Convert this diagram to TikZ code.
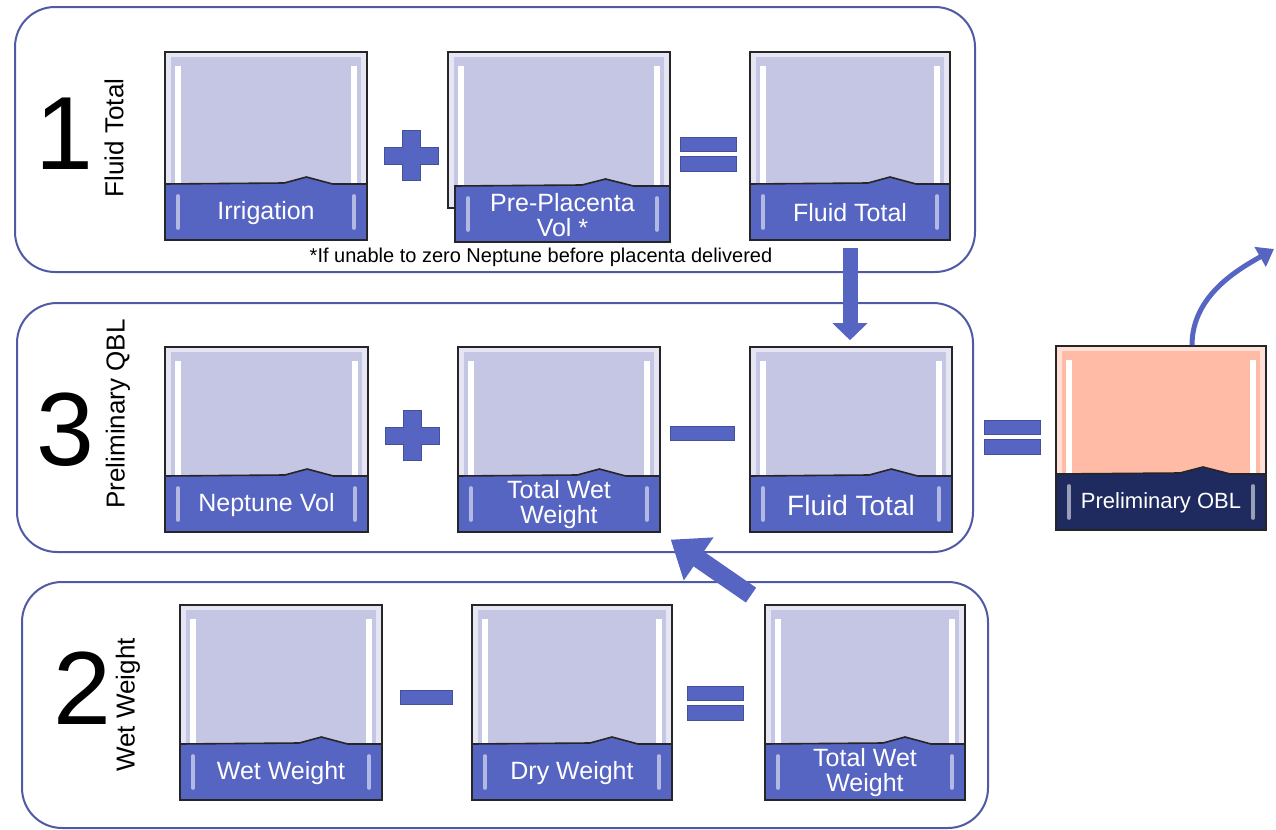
\documentclass[tikz,border=0pt]{standalone}
\usepackage{fontspec}
\setmainfont{Liberation Sans}
\usetikzlibrary{arrows.meta}

\definecolor{boxfill}{HTML}{C5C6E4}
\definecolor{barblue}{HTML}{5664C2}
\definecolor{framecol}{HTML}{5059A3}
\definecolor{salmon}{HTML}{FFBBA5}
\definecolor{navy}{HTML}{1F2B5F}

% box: name, x1, y1, x2, y2, fill
\newcommand{\qbox}[6]{%
  \fill[#6!45!white] (#2,#3) rectangle (#4,#5);
  \fill[#6] (#2+6,#3+5) rectangle (#4-6,#5-4);
  \fill[white] (#2+10,#3+14) rectangle (#2+16,#5-4);
  \fill[white] (#4-16,#3+14) rectangle (#4-10,#5-4);
  \node[boxframe, minimum width={(#4-#2)*0.5pt}, minimum height={(#5-#3)*0.5pt}]
    (#1) at ({(#2+#4)/2},{(#3+#5)/2}) {};}
% label bar: name, x1, x2, bottom, fill, text
\newcommand{\qbar}[6]{%
  \filldraw[fill=#5, draw=black!85, line width=.8pt] (#2,#4) -- (#2,#4-56)
    -- ({#2+0.59*(#3-#2)},#4-57) -- ({#2+0.7*(#3-#2)},#4-63)
    -- ({#2+0.83*(#3-#2)},#4-56) -- (#3,#4-56) -- (#3,#4) -- cycle;
  \draw[barmark] (#2+13,#4-44) -- (#2+13,#4-12);
  \draw[barmark] (#3-13,#4-44) -- (#3-13,#4-12);
  \node[bartext] (#1) at ({(#2+#3)/2},#4-27) {#6};}
\newcommand{\qplus}[2]{\filldraw[symbol] (#1-27,#2-8) -- (#1-9,#2-8) -- (#1-9,#2-25)
  -- (#1+9,#2-25) -- (#1+9,#2-8) -- (#1+27,#2-8) -- (#1+27,#2+9) -- (#1+9,#2+9)
  -- (#1+9,#2+25) -- (#1-9,#2+25) -- (#1-9,#2+9) -- (#1-27,#2+9) -- cycle;}
\newcommand{\qminus}[3]{\filldraw[symbol] (#1-#3,#2-7) rectangle (#1+#3,#2+7);}
\newcommand{\qequals}[2]{\filldraw[symbol] (#1-28,#2-17) rectangle (#1+28,#2-3);
  \filldraw[symbol] (#1-28,#2+2) rectangle (#1+28,#2+17);}

\begin{document}
\begin{tikzpicture}[x=0.5pt, y=-0.5pt,
    panel/.style = {draw=framecol, line width=1pt, rounded corners=20pt},
    boxframe/.style = {draw=black!85, line width=.8pt, inner sep=0pt},
    barmark/.style = {draw=white, opacity=.55, line width=1.8pt, line cap=round},
    bartext/.style = {text=white, align=center, font=\fontsize{12.5}{12.5}\selectfont},
    symbol/.style = {fill=barblue, draw=barblue!80!black, line width=.4pt},
    bignum/.style = {font=\fontsize{52}{52}\selectfont},
    steplabel/.style = {rotate=90, font=\fontsize{13}{13}\selectfont},
    blockarrow/.style = {draw=barblue, line width=7.5pt,
      -{Triangle[width=17pt,length=8.5pt]}}]
  \useasboundingbox (0,0) rectangle (1276,830);

  \draw[panel] (15,7) rectangle (975,272);
  \draw[panel] (17,303) rectangle (973,552);
  \draw[panel] (22,582) rectangle (988,828);

  \node[bignum] (n1) at (64,134) {1};
  \node[steplabel] (l1) at (114,138) {Fluid Total};
  \node[bignum] (n3) at (65,430) {3};
  \node[steplabel] (l3) at (118,414) {Preliminary QBL};
  \node[bignum] (n2) at (82,688) {2};
  \node[steplabel] (l2) at (128,705) {Wet Weight};

  % step 1
  \qbox{irr}{165}{52}{367}{240}{boxfill}
  \qbar{irrl}{165}{367}{240}{barblue}{Irrigation}
  \qplus{411}{155}
  \qbox{ppv}{448}{52}{670}{208}{boxfill}
  \qbar{ppvl}{455}{670}{242}{barblue}{Pre-Placenta\\Vol *}
  \qequals{708}{154}
  \qbox{ft1}{750}{52}{950}{240}{boxfill}
  \qbar{ft1l}{750}{950}{240}{barblue}{Fluid Total}
  \node[font=\fontsize{10}{10}\selectfont] (fn) at (541,257)
    {*If unable to zero Neptune before placenta delivered};

  % step 3
  \qbox{nep}{165}{347}{368}{532}{boxfill}
  \qbar{nepl}{165}{368}{532}{barblue}{Neptune Vol}
  \qplus{412}{435}
  \qbox{tww3}{458}{347}{660}{532}{boxfill}
  \qbar{tww3l}{458}{660}{532}{barblue}{Total Wet\\Weight}
  \qminus{702}{433}{32}
  \qbox{ft3}{750}{347}{952}{532}{boxfill}
  \qbar{ft3l}{750}{952}{532}{barblue}{\fontsize{14}{14}\selectfont Fluid Total}
  \qequals{1012}{437}
  \qbox{obl}{1056}{346}{1266}{530}{salmon}
  \qbar{obll}{1056}{1266}{530}{navy}{\fontsize{11}{11}\selectfont Preliminary OBL}

  % step 2
  \qbox{ww}{180}{605}{382}{800}{boxfill}
  \qbar{wwl}{180}{382}{800}{barblue}{Wet Weight}
  \qminus{426}{697}{26}
  \qbox{dw}{472}{605}{672}{800}{boxfill}
  \qbar{dwl}{472}{672}{800}{barblue}{Dry Weight}
  \qequals{715}{703}
  \qbox{tww2}{765}{605}{965}{800}{boxfill}
  \qbar{tww2l}{765}{965}{800}{barblue}{Total Wet\\Weight}

  \draw[blockarrow, shorten <=3.5pt, shorten >=3pt] (ft1.south) -- (ft1.south |- ft3.north);
  \draw[blockarrow, line width=9pt, -{Triangle[width=25pt,length=17pt]},
    shorten <=8pt, shorten >=6pt] (tww2.north west) -- (tww3.south east);
  \coordinate (exit) at (1274,249);
  \draw[barblue, line width=2.5pt, -{Triangle[width=11pt,length=8pt]}]
    ([xshift=15.5pt]obl.north) .. controls +(0,-50) and +(-35,20) .. (exit);
\end{tikzpicture}
\end{document}
